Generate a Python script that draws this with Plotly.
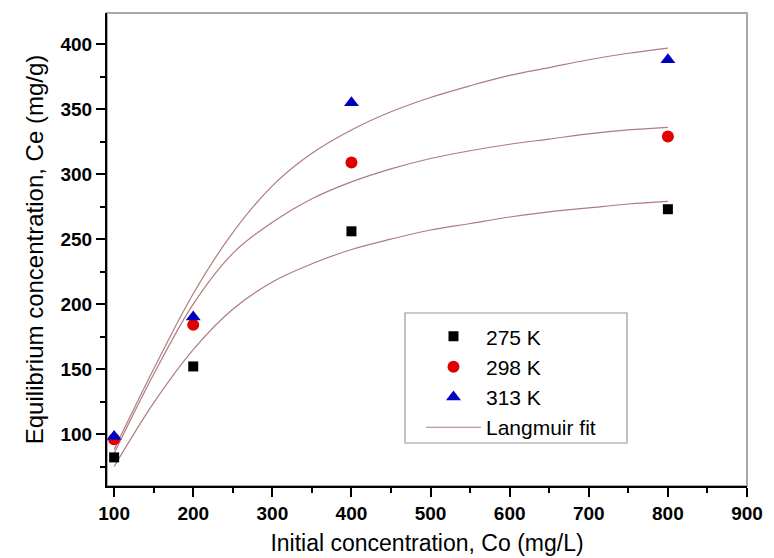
import plotly.graph_objects as go

# ---- data ----
Co = [100, 200, 400, 800]
q275 = [82, 152, 256, 273]
q298 = [96, 184, 309, 329]
q313 = [98, 190, 355, 388]

# Langmuir fit curves, every 50 mg/L
fit_x = [100, 150, 200, 250, 300, 350, 400, 450, 500, 550, 600, 650, 700, 750, 800]
fit275 = [75, 124, 165, 196, 217, 231, 242, 250, 257, 262, 267, 271, 274, 277, 279]
fit298 = [85, 146, 200, 239, 263, 281, 294, 304, 312, 318, 323, 327, 331, 334, 336]
fit313 = [88, 150, 208, 255, 291, 316, 334, 348, 359, 368, 376, 382, 388, 393, 397]

x_ticks = [100, 200, 300, 400, 500, 600, 700, 800, 900]
y_ticks = [100, 150, 200, 250, 300, 350, 400]

FONT = "Liberation Sans, Arial, sans-serif"
FIT_COLOR = "#b07c7c"

fig = go.Figure()

for i, fy in enumerate([fit275, fit298, fit313]):
    fig.add_trace(go.Scatter(
        x=fit_x, y=fy, mode="lines", line=dict(color=FIT_COLOR, width=1.2, shape="spline", smoothing=1),
        name="Langmuir fit", showlegend=(i == 0), legendrank=4, legendgroup="fit"))

fig.add_trace(go.Scatter(x=Co, y=q275, mode="markers", name="275 K", legendrank=1,
                         marker=dict(symbol="square", size=10, color="#000000")))
fig.add_trace(go.Scatter(x=Co, y=q298, mode="markers", name="298 K", legendrank=2,
                         marker=dict(symbol="circle", size=12, color="#e00000")))
fig.add_trace(go.Scatter(x=Co, y=q313, mode="markers", name="313 K", legendrank=3,
                         marker=dict(symbol="triangle-up", size=13, color="#0000c0")))

# grey frame (top/right) and legend box
fig.add_shape(type="rect", xref="paper", yref="paper", x0=0, x1=1, y0=0, y1=1,
              line=dict(color="#a8a8a8", width=2), layer="below")
fig.add_shape(type="rect", xref="paper", yref="paper", x0=0.4656, x1=0.8125, y0=0.0909, y1=0.3658,
              line=dict(color="#999999", width=1.2), layer="above")

fig.update_layout(
    width=774, height=558,
    margin=dict(l=107, r=27, t=13, b=72),
    paper_bgcolor="white", plot_bgcolor="white",
    font=dict(family=FONT, color="black"),
    showlegend=True,
    legend=dict(x=0.4906, y=0.359, xanchor="left", yanchor="top",
                borderwidth=0, bgcolor="rgba(0,0,0,0)",
                font=dict(size=21, family=FONT), itemwidth=55,
                tracegroupgap=0, traceorder="normal"),
)

fig.update_xaxes(
    range=[91, 900], tickvals=x_ticks, ticktext=["<b>%d</b>" % v for v in x_ticks],
    showgrid=False, zeroline=False, automargin=False,
    showline=True, linecolor="black", linewidth=2,
    ticks="outside", ticklen=9, tickwidth=1.5, tickcolor="black",
    tickfont=dict(size=19, family=FONT),
    minor=dict(dtick=50, tick0=0, ticks="outside", ticklen=5, tickwidth=1.5, tickcolor="black", showgrid=False),
    title=dict(text="Initial concentration, Co (mg/L)", font=dict(size=23, family=FONT), standoff=12),
)
fig.update_yaxes(
    range=[60, 424], tickvals=y_ticks, ticktext=["<b>%d</b>" % v for v in y_ticks],
    showgrid=False, zeroline=False, automargin=False,
    showline=True, linecolor="black", linewidth=2,
    ticks="outside", ticklen=9, tickwidth=1.5, tickcolor="black",
    tickfont=dict(size=19, family=FONT),
    minor=dict(dtick=25, tick0=0, ticks="outside", ticklen=5, tickwidth=1.5, tickcolor="black", showgrid=False),
    title=dict(text="Equilibrium concentration, Ce (mg/g)", font=dict(size=24, family=FONT), standoff=10),
)

fig.write_html("out.html")
